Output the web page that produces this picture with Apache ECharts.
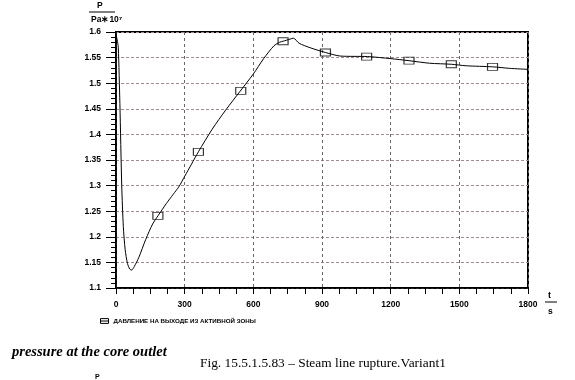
<!DOCTYPE html>
<html><head><meta charset="utf-8">
<script src="https://cdn.jsdelivr.net/npm/echarts@6/dist/echarts.min.js"></script>
<style>html,body{margin:0;padding:0;background:#fff}#c{width:575px;height:380px}</style>
</head><body><div id="c"></div>
<script>
// Time (s) and pressure (Pa*10^7)
var curveTime  = [0, 5, 10, 17, 25, 32, 40, 50, 60, 68, 80, 100, 130, 160, 185, 220, 250, 275, 300, 330, 360, 420, 480, 540, 600, 645, 690, 715, 730, 760, 775, 800, 850, 915, 980, 1100, 1200, 1280, 1370, 1465, 1530, 1645, 1720, 1800];
var curveValue = [1.595, 1.585, 1.57, 1.46, 1.30, 1.22, 1.175, 1.148, 1.137, 1.135, 1.142, 1.16, 1.195, 1.225, 1.242, 1.265, 1.283, 1.298, 1.318, 1.342, 1.366, 1.41, 1.448, 1.483, 1.518, 1.548, 1.573, 1.580, 1.582, 1.586, 1.588, 1.578, 1.569, 1.560, 1.553, 1.552, 1.548, 1.544, 1.539, 1.537, 1.534, 1.532, 1.529, 1.527];
// Marker positions
var markerTime  = [183, 360, 545, 730, 915, 1095, 1280, 1465, 1645];
var markerValue = [1.241, 1.366, 1.485, 1.582, 1.560, 1.552, 1.544, 1.537, 1.532];
var xTicks = [0, 300, 600, 900, 1200, 1500, 1800];
var yTicks = [1.1, 1.15, 1.2, 1.25, 1.3, 1.35, 1.4, 1.45, 1.5, 1.55, 1.6];
var seriesName = 'ДАВЛЕНИЕ НА ВЫХОДЕ ИЗ АКТИВНОЙ ЗОНЫ';

var lineData = curveTime.map(function(t, i){ return [t, curveValue[i]]; });
var markData = markerTime.map(function(t, i){ return [t, markerValue[i]]; });

var chart = echarts.init(document.getElementById('c'), null, {renderer: 'canvas'});
var labelFont = {fontFamily: 'Liberation Sans, Arial, sans-serif', fontSize: 8.5, fontWeight: 'bold', color: '#000'};
chart.setOption({
  animation: false,
  backgroundColor: '#fff',
  grid: {left: 116, right: 47, top: 32, bottom: 92, show: true, borderColor: '#000', borderWidth: 2, backgroundColor: 'transparent'},
  xAxis: {
    type: 'value', min: 0, max: 1800, interval: 300,
    axisLine: {show: true, onZero: false, lineStyle: {color: '#000', width: 1.5}},
    axisTick: {show: true, length: 6, lineStyle: {color: '#000'}},
    minorTick: {show: true, splitNumber: 4, length: 6, lineStyle: {color: '#000'}},
    axisLabel: Object.assign({margin: 12, formatter: function(v){ return xTicks.indexOf(v) >= 0 ? String(v) : ''; }}, labelFont),
    splitLine: {show: true, lineStyle: {color: '#666', type: [3, 3], width: 1}}
  },
  yAxis: {
    type: 'value', min: 1.1, max: 1.6, interval: 0.05,
    axisLine: {show: true, onZero: false, lineStyle: {color: '#000', width: 1.5}},
    axisTick: {show: true, length: 10, lineStyle: {color: '#000'}},
    minorTick: {show: true, splitNumber: 5, length: 5, lineStyle: {color: '#000'}},
    axisLabel: Object.assign({margin: 15, formatter: function(v){
      var r = Math.round(v * 100) / 100;
      for (var i = 0; i < yTicks.length; i++) if (Math.abs(yTicks[i] - r) < 1e-6) return String(yTicks[i]);
      return '';
    }}, labelFont),
    splitLine: {show: true, lineStyle: {color: '#a08a96', type: [3, 2], width: 1}}
  },
  legend: {
    show: true, left: 100, top: 318, itemWidth: 8, itemHeight: 5, itemGap: 4, padding: 0,
    data: [{name: seriesName, icon: 'path://M0,0 L10,0 L10,6 L0,6 Z M0,3 L10,3'}],
    itemStyle: {color: 'transparent', borderColor: '#000', borderWidth: 1},
    textStyle: {fontFamily: 'Liberation Sans, Arial, sans-serif', fontSize: 6.2, fontWeight: 'bold', color: '#000', padding: [0,0,0,0]}
  },
  series: [
    {name: seriesName, type: 'line', data: lineData, smooth: 0.25, showSymbol: false, symbol: 'none',
     lineStyle: {color: '#000', width: 1}, z: 3},
    {name: seriesName, type: 'scatter', data: markData, symbol: 'rect', symbolSize: [10, 7],
     itemStyle: {color: 'rgba(255,255,255,0)', borderColor: '#000', borderWidth: 1}, z: 4}
  ],
  graphic: [
    {type: 'text', left: 97, top: 1, style: {text: 'P', font: 'bold 8.5px Liberation Sans, Arial, sans-serif', fill: '#000'}},
    {type: 'line', shape: {x1: 89, y1: 12, x2: 115, y2: 12}, style: {stroke: '#000', lineWidth: 1}},
    {type: 'text', left: 91, top: 15, style: {text: 'Pa∗10⁷', font: 'bold 8.5px Liberation Sans, Arial, sans-serif', fill: '#000'}},
    {type: 'text', left: 548, top: 291, style: {text: 't', font: 'bold 9px Liberation Sans, Arial, sans-serif', fill: '#000'}},
    {type: 'line', shape: {x1: 545, y1: 302, x2: 557, y2: 302}, style: {stroke: '#000', lineWidth: 1}},
    {type: 'text', left: 548, top: 307, style: {text: 's', font: 'bold 8.5px Liberation Sans, Arial, sans-serif', fill: '#000'}},
    {type: 'text', left: 12, top: 345, style: {text: 'pressure at the core outlet', font: 'italic bold 14.5px Liberation Serif, Times New Roman, serif', fill: '#000'}},
    {type: 'text', left: 200, top: 357, style: {text: 'Fig. 15.5.1.5.83 – Steam line rupture.Variant1', font: '13.4px Liberation Serif, Times New Roman, serif', fill: '#000'}},
    {type: 'text', left: 95, top: 374, style: {text: 'P', font: 'bold 7px Liberation Sans, Arial, sans-serif', fill: '#000'}}
  ]
});
</script></body></html>
